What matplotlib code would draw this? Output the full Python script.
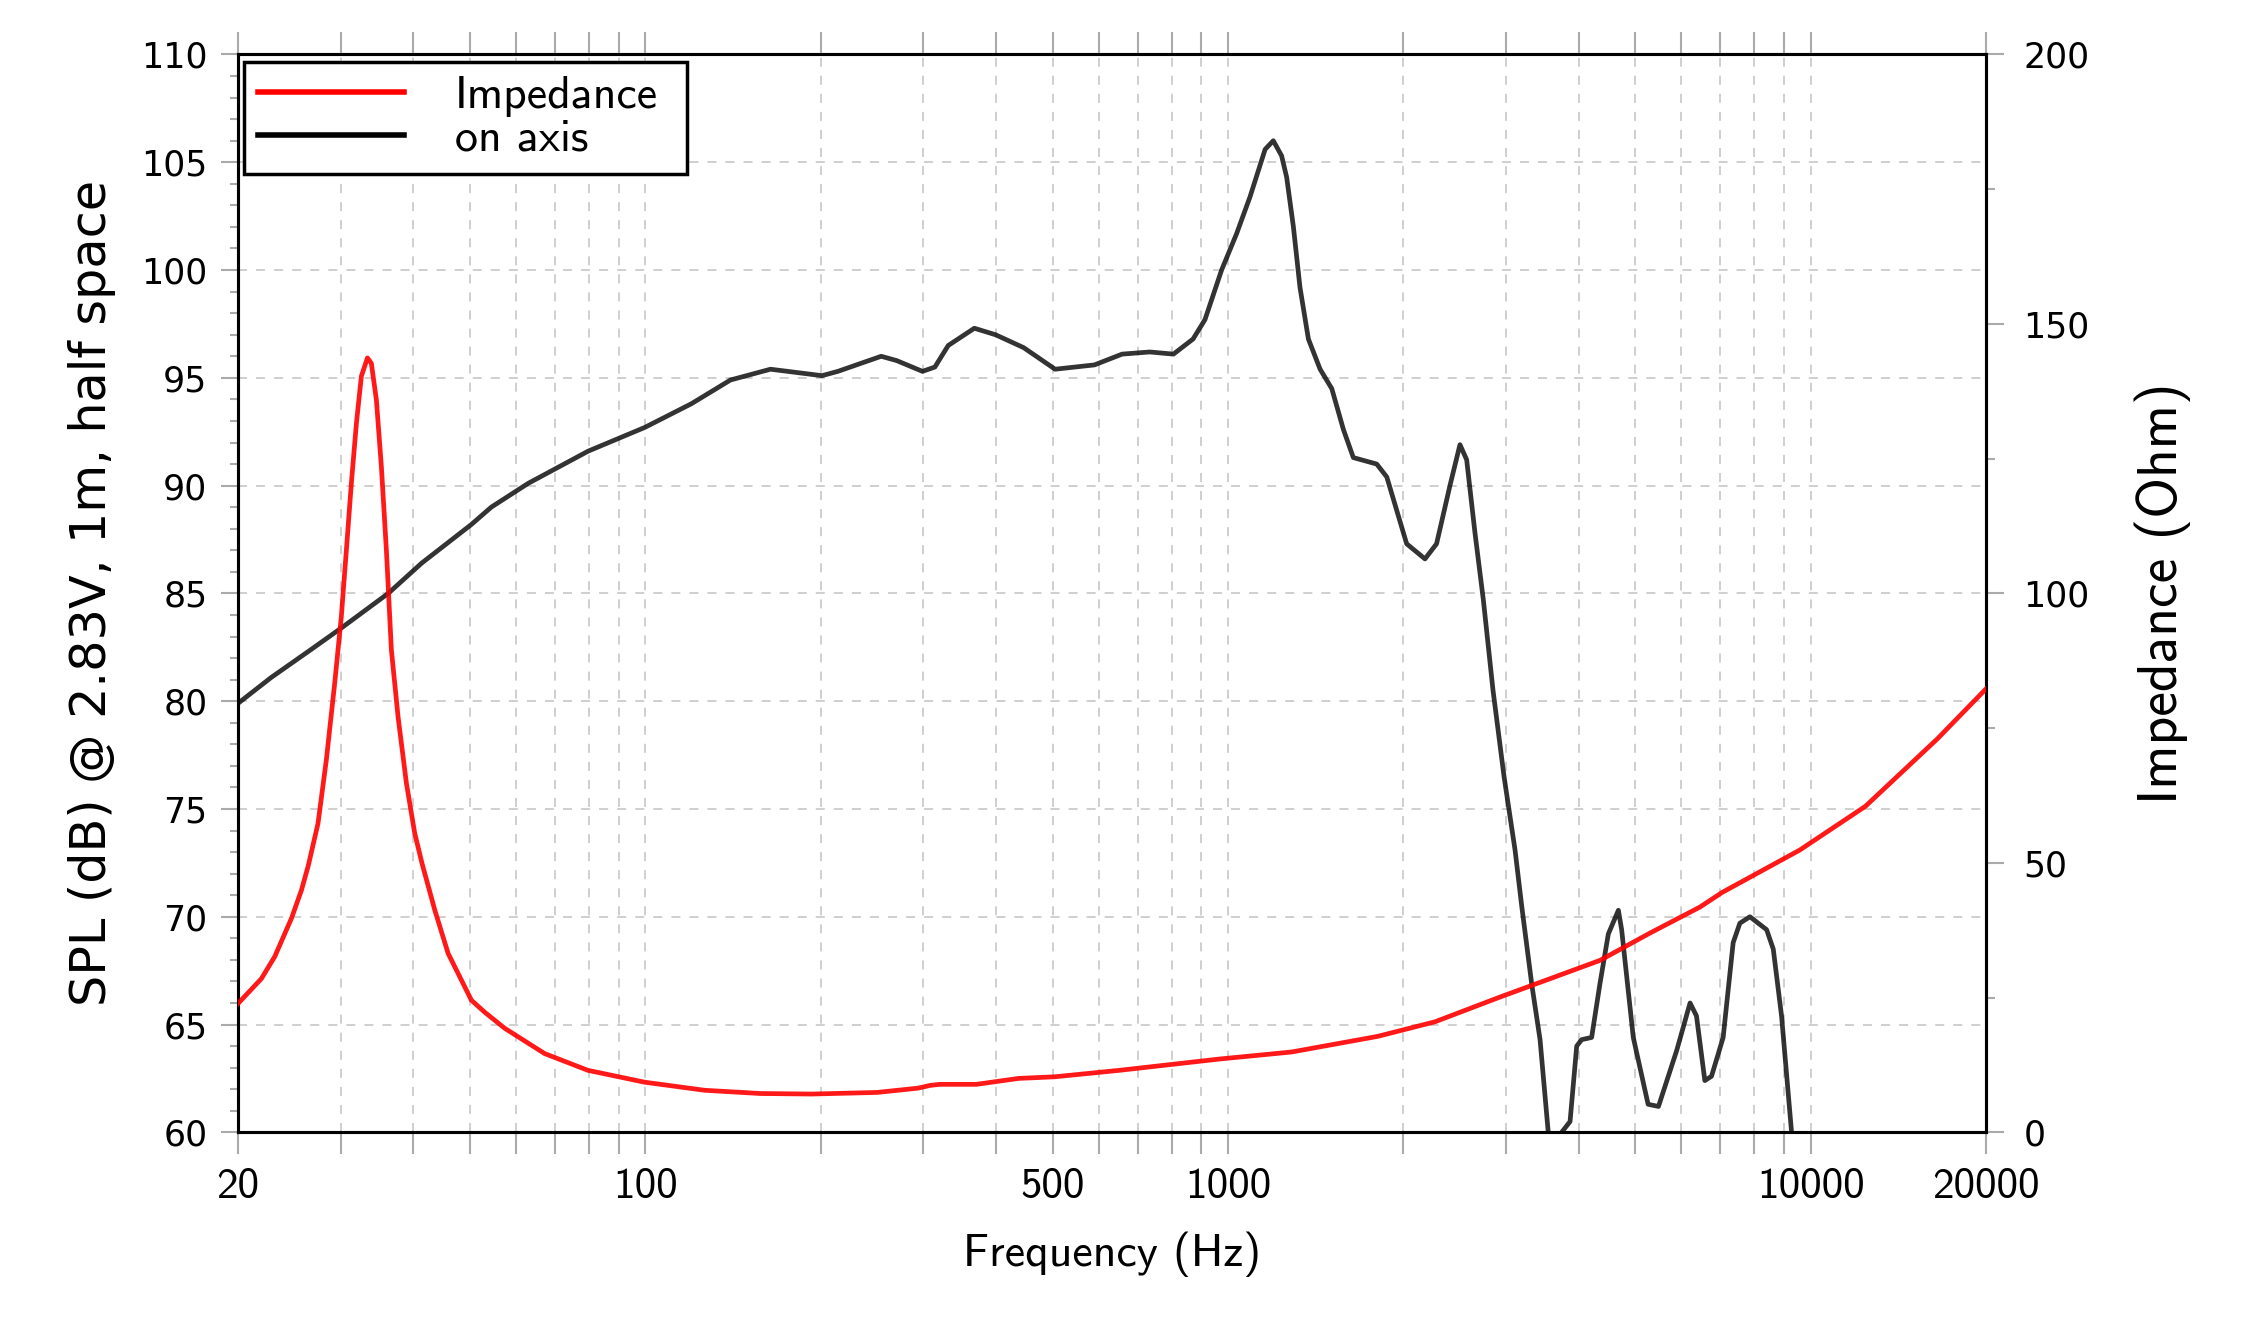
import numpy as np
import matplotlib
matplotlib.use("Agg")
import matplotlib.pyplot as plt
from matplotlib.lines import Line2D
from matplotlib.ticker import FixedLocator, NullFormatter, MultipleLocator

plt.rcParams['font.family'] = ['cmss10', 'DejaVu Sans']
plt.rcParams['axes.unicode_minus'] = False

# on-axis SPL (dB)
spl_freq = [20, 22.8, 26.7, 30.1, 36.2, 41.3, 50.3, 54.4, 62.9, 79.8, 99.8, 120,
            140, 164, 201, 214, 254, 270, 299, 314, 331, 367, 399, 446, 505, 590,
            658, 734, 806, 871, 913, 975, 1035, 1091, 1158, 1196, 1236, 1261, 1295,
            1329, 1374, 1439, 1507, 1578, 1641, 1800, 1873, 2026, 2178, 2280, 2404,
            2501, 2568, 2654, 2743, 2850, 2977, 3109, 3192, 3320, 3432, 3545, 3640,
            3738, 3864, 3967, 4046, 4208, 4349, 4495, 4677, 4738, 4961, 5260, 5480,
            5890, 6209, 6368, 6582, 6758, 7076, 7362, 7559, 7865, 8402, 8626, 8913,
            9273, 9500]
spl_db = [79.9, 81.1, 82.4, 83.4, 85.0, 86.4, 88.2, 89.0, 90.1, 91.6, 92.7, 93.8,
          94.9, 95.4, 95.1, 95.3, 96.0, 95.8, 95.3, 95.5, 96.5, 97.3, 97.0, 96.4,
          95.4, 95.6, 96.1, 96.2, 96.1, 96.8, 97.7, 100.0, 101.7, 103.4, 105.6,
          106.0, 105.3, 104.3, 102.0, 99.2, 96.8, 95.4, 94.5, 92.6, 91.3, 91.0,
          90.4, 87.3, 86.6, 87.3, 90.0, 91.9, 91.2, 87.8, 84.7, 80.5, 76.5, 73.1,
          70.5, 66.9, 64.3, 60.0, 58.0, 60.0, 60.5, 64.0, 64.3, 64.4, 66.9, 69.2,
          70.3, 69.4, 64.4, 61.3, 61.2, 63.8, 66.0, 65.4, 62.4, 62.6, 64.4, 68.8,
          69.7, 70.0, 69.4, 68.5, 65.4, 60.0, 56.0]

# impedance (Ohm)
imp_freq = [20, 21.93, 23.12, 24.7, 25.69, 26.4, 27.43, 28.35, 29.3, 30.08, 30.69,
            31.3, 31.93, 32.56, 33.35, 33.87, 34.55, 35.24, 35.94, 36.66, 37.64,
            38.9, 40.2, 41.4, 43.53, 45.87, 50.3, 52.99, 57.37, 67.2, 79.7, 99.7,
            126.4, 157.4, 193, 250, 294, 308, 320, 370, 437, 504, 651, 967, 1285,
            1806, 2265, 2930, 4349, 5305, 6457, 7045, 9586, 12417, 16494, 20000]
imp_ohm = [23.9, 28.5, 32.6, 39.7, 44.9, 49.5, 57.3, 69.1, 83.3, 95.7, 108.1,
           120.5, 131.6, 140.3, 143.7, 142.7, 135.9, 123.5, 108.1, 89.5, 77.1,
           64.8, 55.5, 49.8, 41.2, 33.2, 24.5, 22.3, 19.3, 14.6, 11.5, 9.3, 7.8,
           7.2, 7.1, 7.4, 8.2, 8.7, 8.9, 8.9, 10.0, 10.3, 11.5, 13.6, 14.9, 17.8,
           20.5, 25.1, 31.9, 37.0, 41.8, 44.5, 52.4, 60.5, 73.0, 82.3]

xtick_vals = [20, 100, 500, 1000, 10000, 20000]
spl_ticks = list(range(60, 111, 5))
imp_ticks = list(range(0, 201, 50))

grid_freqs = [20, 30, 40, 50, 60, 70, 80, 90, 100, 200, 300, 400, 500, 600, 700,
              800, 900, 1000, 2000, 3000, 4000, 5000, 6000, 7000, 8000, 9000,
              10000, 20000]

fig = plt.figure(figsize=(22.5, 13.29), dpi=100)
ax = fig.add_axes([0.1058, 0.148, 0.7769, 0.811])
ax2 = ax.twinx()

ax.set_xscale('log')
ax.set_xlim(20, 20000)
ax.set_ylim(60, 110)
ax2.set_ylim(0, 200)

# grid
for f in grid_freqs:
    ax.axvline(f, color='#cccccc', lw=1.3, ls=(0, (5, 5)), zorder=0)
for v in spl_ticks:
    ax.axhline(v, color='#cccccc', lw=1.3, ls=(0, (5, 5)), zorder=0)

l_spl, = ax.plot(spl_freq, spl_db, color='black', lw=3.4, alpha=0.8, zorder=3)
l_imp, = ax2.plot(imp_freq, imp_ohm, color='#ff0000', lw=3.4, alpha=0.9, zorder=3)

# x ticks
ax.xaxis.set_major_locator(FixedLocator(grid_freqs))
ax.set_xticklabels([str(f) if f in xtick_vals else '' for f in grid_freqs])
ax.xaxis.set_minor_formatter(NullFormatter())
ax.xaxis.set_minor_locator(FixedLocator([]))
ax.tick_params(axis='x', which='major', direction='out', length=16, width=1.5,
               color='#aaaaaa', labelsize=31, pad=10, top=True)

# left y ticks
ax.yaxis.set_major_locator(FixedLocator(spl_ticks))
ax.yaxis.set_minor_locator(MultipleLocator(1))
ax.tick_params(axis='y', which='major', direction='out', length=12, width=1.5,
               color='#aaaaaa', labelsize=25, pad=10)
ax.tick_params(axis='y', which='minor', direction='out', length=6, width=1.5,
               color='#aaaaaa')
plt.setp(ax.get_yticklabels(), family='DejaVu Sans')

# right y ticks
ax2.yaxis.set_major_locator(FixedLocator(imp_ticks))
ax2.yaxis.set_minor_locator(MultipleLocator(25))
ax2.tick_params(axis='y', which='major', direction='out', length=13, width=1.5,
                color='#aaaaaa', labelsize=25, pad=14)
ax2.tick_params(axis='y', which='minor', direction='out', length=6.5, width=1.5,
                color='#aaaaaa')
plt.setp(ax2.get_yticklabels(), family='DejaVu Sans')

for a in (ax, ax2):
    for s in a.spines.values():
        s.set_linewidth(2.2)
        s.set_color('black')

ax.set_xlabel('Frequency (Hz)', fontsize=33, labelpad=18)
ax.set_ylabel('SPL (dB) @ 2.83V, 1m, half space', fontsize=35.5,
              family='DejaVu Sans', labelpad=18)
ax2.set_ylabel('Impedance (Ohm)', fontsize=40, labelpad=32)

handles = [Line2D([], [], color='#ff0000', lw=4),
           Line2D([], [], color='black', lw=4)]
leg = ax.legend(handles, ['Impedance', 'on axis'], loc='upper left',
                bbox_to_anchor=(0.0034, 0.8, 0.2534, 0.1933), mode='expand',
                borderaxespad=0, fontsize=33,
                fancybox=False, framealpha=1, edgecolor='black',
                handlelength=3.2, handletextpad=1.1, borderpad=0.3,
                labelspacing=0.05)
leg.get_frame().set_linewidth(2.5)
leg.set_zorder(10)

fig.savefig('out.png', dpi=100, facecolor='white')
